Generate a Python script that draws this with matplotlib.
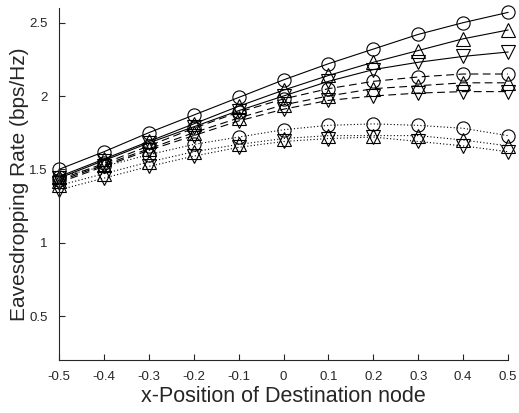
#!/usr/bin/env python3
"""Eavesdropping rate vs. x-position of the destination node."""

import matplotlib
matplotlib.use("Agg")
import matplotlib.pyplot as plt
import numpy as np

plt.rcParams["font.family"] = ["Liberation Sans", "DejaVu Sans"]

# ---------------------------------------------------------------------------
# Data
# ---------------------------------------------------------------------------
x_pos = [-0.5, -0.4, -0.3, -0.2, -0.1, 0.0, 0.1, 0.2, 0.3, 0.4, 0.5]

solid_circle = [1.50, 1.62, 1.75, 1.87, 1.99, 2.11, 2.22, 2.32, 2.42, 2.50, 2.57]
solid_up     = [1.45, 1.57, 1.69, 1.81, 1.93, 2.04, 2.14, 2.23, 2.31, 2.39, 2.45]
solid_down   = [1.44, 1.56, 1.68, 1.79, 1.90, 2.00, 2.10, 2.18, 2.23, 2.27, 2.30]

dashed_circle = [1.43, 1.54, 1.66, 1.78, 1.89, 1.98, 2.05, 2.10, 2.13, 2.15, 2.15]
dashed_up     = [1.42, 1.53, 1.64, 1.75, 1.85, 1.94, 2.00, 2.05, 2.07, 2.09, 2.09]
dashed_down   = [1.41, 1.52, 1.63, 1.73, 1.83, 1.91, 1.97, 2.00, 2.02, 2.03, 2.03]

dotted_circle = [1.45, 1.52, 1.60, 1.67, 1.72, 1.77, 1.80, 1.81, 1.80, 1.78, 1.73]
dotted_up     = [1.39, 1.47, 1.55, 1.62, 1.67, 1.71, 1.73, 1.73, 1.73, 1.70, 1.66]
dotted_down   = [1.36, 1.44, 1.52, 1.59, 1.65, 1.69, 1.71, 1.72, 1.69, 1.66, 1.62]

x_ticks = [-0.5, -0.4, -0.3, -0.2, -0.1, 0, 0.1, 0.2, 0.3, 0.4, 0.5]
x_tick_labels = ["-0.5", "-0.4", "-0.3", "-0.2", "-0.1", "0",
                 "0.1", "0.2", "0.3", "0.4", "0.5"]
y_ticks = [0.5, 1, 1.5, 2, 2.5]
y_tick_labels = ["0.5", "1", "1.5", "2", "2.5"]

# ---------------------------------------------------------------------------
# Plot
# ---------------------------------------------------------------------------
fig = plt.figure(figsize=(5.19, 4.13), dpi=100)
ax = fig.add_axes([0.1137, 0.1283, 0.8651, 0.8523])

series = [
    (solid_circle, "-", "o"), (solid_up, "-", "^"), (solid_down, "-", "v"),
    (dashed_circle, (0, (7, 4)), "o"), (dashed_up, (0, (7, 4)), "^"),
    (dashed_down, (0, (7, 4)), "v"),
    (dotted_circle, (0, (1, 2)), "o"), (dotted_up, (0, (1, 2)), "^"),
    (dotted_down, (0, (1, 2)), "v"),
]
for vals, ls, mk in series:
    ax.plot(x_pos, vals, linestyle=ls, marker=mk, color="black",
            linewidth=0.8, markersize=9.5, markerfacecolor="none",
            markeredgewidth=0.8, clip_on=False)

ax.set_xlim(-0.5, 0.5)
ax.set_ylim(0.2, 2.6)
ax.set_xticks(x_ticks)
ax.set_xticklabels(x_tick_labels)
ax.set_yticks(y_ticks)
ax.set_yticklabels(y_tick_labels)

axis_color = "#262626"
for side in ("top", "right"):
    ax.spines[side].set_visible(False)
for side in ("left", "bottom"):
    ax.spines[side].set_color(axis_color)
    ax.spines[side].set_linewidth(0.8)
ax.tick_params(direction="in", length=4, width=0.8, colors=axis_color,
               labelsize=9.5, pad=8)

ax.set_xlabel("x-Position of Destination node", fontsize=15.5,
              color=axis_color, labelpad=2)
ax.set_ylabel("Eavesdropping Rate (bps/Hz)", fontsize=15,
              color=axis_color, labelpad=0)

fig.savefig("out.png", dpi=100)
plt.close(fig)
